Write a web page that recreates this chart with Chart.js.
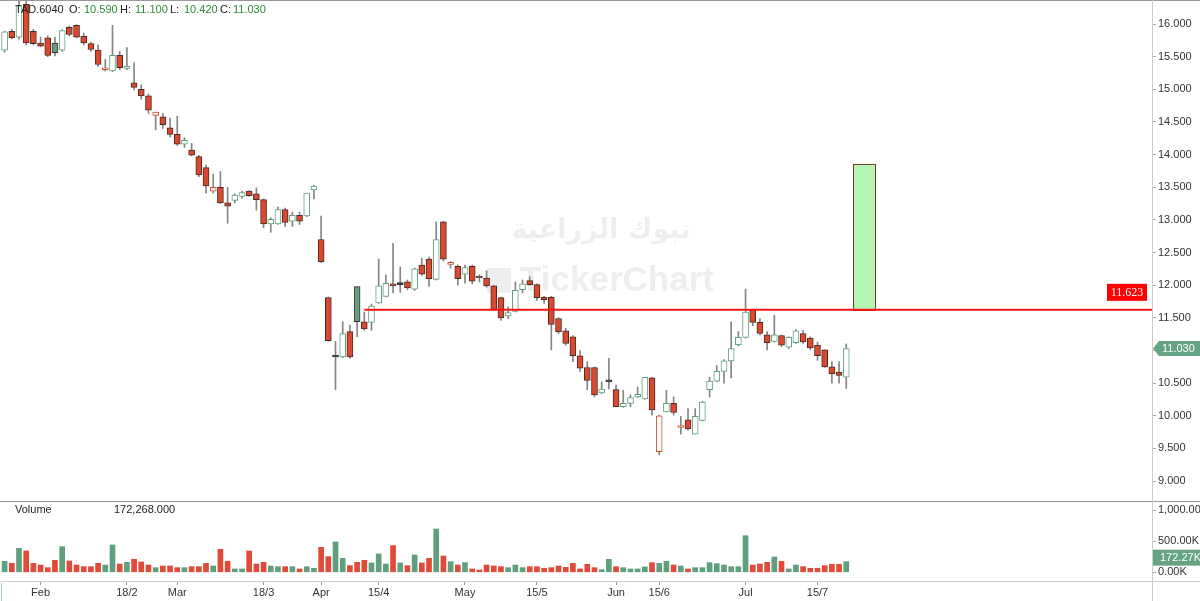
<!DOCTYPE html>
<html>
<head>
<meta charset="utf-8">
<script src="https://cdn.jsdelivr.net/npm/chart.js@4.4.1/dist/chart.umd.min.js"></script>
<style>
html, body { margin: 0; padding: 0; background: #fff; }
#wrap { width: 1200px; height: 601px; position: relative; }
</style>
</head>
<body>
<div id="wrap"><canvas id="chart"></canvas></div>
<script>
// daily candles, oldest first
const open = [
  15.60, 15.89, 15.80, 16.30, 15.89, 15.71, 15.79, 15.71, 15.60, 15.95,
  15.98, 15.81, 15.70, 15.60, 15.30, 15.28, 15.52, 15.32, 15.10, 15.00,
  14.90, 14.60, 14.58, 14.41, 14.31, 14.16, 14.07, 13.97, 13.80, 13.44,
  13.50, 13.26, 13.30, 13.36, 13.44, 13.40, 13.31, 12.94, 12.94, 13.16,
  12.98, 13.07, 13.06, 13.46, 12.70, 11.81, 10.90, 10.90, 11.29, 11.98,
  11.44, 11.43, 11.73, 11.83, 12.00, 12.01, 12.05, 11.94, 12.31, 12.40,
  12.09, 12.97, 12.32, 12.29, 12.17, 12.29, 12.12, 12.11, 11.99, 11.81,
  11.53, 11.60, 11.93, 12.07, 12.01, 11.82, 11.82, 11.49, 11.30, 11.21,
  10.92, 10.74, 10.74, 10.35, 10.52, 10.40, 10.14, 10.19, 10.29, 10.26,
  10.58, 9.45, 10.06, 10.19, 9.82, 9.94, 9.72, 9.93, 10.40, 10.53,
  10.68, 10.84, 11.09, 11.20, 11.63, 11.43, 11.24, 11.14, 11.23, 11.05,
  11.12, 11.26, 11.19, 11.08, 11.01, 10.75, 10.67, 10.59
];
const high = [
  15.89, 15.92, 16.40, 16.45, 15.92, 15.80, 15.82, 15.80, 15.91, 15.97,
  15.99, 15.86, 15.72, 15.68, 15.46, 15.98, 15.58, 15.64, 15.41, 15.07,
  14.93, 14.65, 14.63, 14.56, 14.59, 14.26, 14.17, 13.99, 13.84, 13.70,
  13.74, 13.50, 13.40, 13.44, 13.45, 13.49, 13.32, 13.03, 13.20, 13.18,
  13.12, 13.12, 13.41, 13.53, 13.06, 11.82, 11.14, 11.44, 11.39, 11.98,
  11.59, 11.71, 12.40, 12.16, 12.64, 12.28, 12.08, 12.26, 12.41, 12.43,
  12.97, 12.98, 12.36, 12.31, 12.31, 12.31, 12.16, 12.22, 12.00, 11.82,
  11.67, 12.05, 12.08, 12.13, 12.02, 11.83, 11.83, 11.50, 11.34, 11.23,
  11.00, 10.83, 10.75, 10.52, 10.88, 10.47, 10.39, 10.32, 10.44, 10.59,
  10.59, 10.01, 10.39, 10.29, 9.99, 10.11, 10.11, 10.22, 10.59, 10.77,
  10.86, 11.44, 11.29, 11.94, 11.63, 11.49, 11.29, 11.54, 11.24, 11.21,
  11.32, 11.31, 11.21, 11.13, 11.01, 10.83, 10.83, 11.10
];
const low = [
  15.57, 15.77, 15.77, 15.68, 15.68, 15.65, 15.50, 15.51, 15.58, 15.82,
  15.79, 15.68, 15.58, 15.35, 15.28, 15.27, 15.30, 15.30, 14.99, 14.85,
  14.63, 14.38, 14.40, 14.27, 14.14, 14.11, 13.98, 13.66, 13.41, 13.41,
  13.25, 12.95, 13.26, 13.33, 13.36, 13.15, 12.88, 12.81, 12.93, 12.90,
  12.90, 12.93, 13.05, 13.32, 12.35, 11.14, 10.40, 10.89, 10.88, 11.21,
  11.31, 11.31, 11.72, 11.82, 11.88, 11.89, 11.93, 11.92, 12.15, 11.98,
  12.08, 12.37, 12.26, 12.00, 12.03, 12.02, 12.05, 11.97, 11.62, 11.46,
  11.49, 11.59, 11.88, 12.00, 11.77, 11.72, 11.01, 11.26, 11.08, 10.83,
  10.68, 10.40, 10.29, 10.34, 10.41, 10.14, 10.13, 10.14, 10.28, 10.25,
  10.01, 9.40, 10.06, 10.01, 9.72, 9.78, 9.72, 9.92, 10.29, 10.52,
  10.50, 10.58, 11.07, 11.19, 11.38, 11.24, 11.01, 11.13, 11.06, 11.03,
  11.11, 11.11, 11.01, 10.85, 10.74, 10.50, 10.50, 10.42
];
const close = [
  15.88, 15.79, 16.28, 15.71, 15.70, 15.66, 15.52, 15.56, 15.90, 15.84,
  15.80, 15.71, 15.61, 15.38, 15.31, 15.52, 15.33, 15.35, 15.03, 14.90,
  14.68, 14.65, 14.46, 14.31, 14.16, 14.22, 13.99, 13.69, 13.52, 13.50,
  13.26, 13.21, 13.38, 13.42, 13.37, 13.31, 12.94, 13.01, 13.16, 12.96,
  13.07, 12.98, 13.41, 13.52, 12.36, 11.15, 10.90, 11.26, 10.90, 11.44,
  11.33, 11.68, 11.99, 12.03, 11.99, 12.01, 11.96, 12.25, 12.17, 12.10,
  12.70, 12.40, 12.33, 12.10, 12.27, 12.06, 12.11, 11.99, 11.63, 11.50,
  11.58, 11.92, 12.02, 12.01, 11.81, 11.78, 11.40, 11.29, 11.11, 10.92,
  10.73, 10.54, 10.32, 10.41, 10.52, 10.14, 10.19, 10.28, 10.33, 10.59,
  10.09, 10.00, 10.19, 10.05, 9.84, 9.80, 9.99, 10.21, 10.53, 10.68,
  10.84, 11.03, 11.20, 11.59, 11.43, 11.26, 11.12, 11.24, 11.08, 11.20,
  11.30, 11.13, 11.04, 10.92, 10.75, 10.64, 10.62, 11.03
];
// volume in thousands
const volume = [
  177, 145, 387, 344, 145, 118, 75, 194, 414, 183,
  118, 91, 91, 145, 118, 441, 134, 161, 210, 167,
  118, 75, 102, 102, 75, 75, 91, 91, 145, 102,
  371, 177, 54, 54, 344, 134, 161, 102, 91, 91,
  91, 54, 91, 65, 403, 253, 489, 226, 108, 161,
  194, 151, 296, 134, 430, 151, 108, 280, 151, 226,
  699, 263, 172, 118, 156, 54, 38, 118, 102, 91,
  75, 118, 75, 91, 91, 65, 75, 102, 81, 145,
  54, 129, 75, 43, 210, 91, 75, 54, 54, 86,
  156, 145, 177, 118, 102, 54, 75, 75, 156, 140,
  118, 91, 91, 591, 118, 134, 161, 247, 177, 54,
  118, 91, 65, 65, 108, 129, 129, 172.268
];

const tickAt = [5, 17, 24, 36, 44, 52, 64, 74, 85, 91, 103, 113];
const tickText = ['Feb', '18/2', 'Mar', '18/3', 'Apr', '15/4', 'May', '15/5', 'Jun', '15/6', 'Jul', '15/7'];
const priceTicks = [9, 9.5, 10, 10.5, 11, 11.5, 12, 12.5, 13, 13.5, 14, 14.5, 15, 15.5, 16];
const volTicks = [0, 500, 1000];

const slots = 160;          // candles plus empty space on the right
const level = 11.623;       // drawn horizontal line
const levelFrom = 50;
const boxFrom = 118, boxTo = 121, boxTop = 13.856;

const up = '#62a080', down = '#d9492f', edge = '#4b2a22', dark = '#333';
const last = close.length - 1;

const dirColor = i => (i === 0 || close[i] >= close[i - 1]) ? up : down;
const bodyFill = open.map((o, i) => o === close[i] ? dark : (close[i] > o ? '#fff' : dirColor(i)));
const bodyLine = open.map((o, i) => o === close[i] ? dark : (close[i] > o ? dirColor(i) : edge));
const volColor = open.map((o, i) => close[i] >= o ? '#5f9f7e' : '#e04a38');

const fmtVol = v => v.toLocaleString('en-US', {minimumFractionDigits: 2, maximumFractionDigits: 2}) + 'K';
const font = '"Liberation Sans", Arial, sans-serif';

const noPad = axis => {
    axis.paddingTop = 0; axis.paddingBottom = 0;
    axis.paddingLeft = 0; axis.paddingRight = 0;
};

const decor = {
    id: 'decor',
    beforeDraw(chart) {
        const ctx = chart.ctx;
        ctx.save();
        ctx.fillStyle = '#fff';
        ctx.fillRect(0, 0, chart.width, chart.height);
        ctx.restore();
    },
    beforeDatasetsDraw(chart) {
        const ctx = chart.ctx;
        ctx.save();
        ctx.fillStyle = 'rgba(0,0,0,0.065)';
        ctx.textAlign = 'center';
        ctx.textBaseline = 'middle';
        ctx.font = 'bold 27px "DejaVu Sans"';
        ctx.fillText('تبوك الزراعية', 601, 231);
        ctx.font = 'bold 35px ' + font;
        ctx.fillText('TickerChart', 617, 281);
        ctx.fillRect(487, 268, 24, 25);
        ctx.restore();
    },
    afterDatasetsDraw(chart) {
        const {ctx, scales} = chart;
        const x = scales.x, y = scales.y, v = scales.v;
        const right = chart.chartArea.right;
        ctx.save();

        // panel frame lines
        ctx.lineWidth = 1;
        ctx.strokeStyle = '#999';
        ctx.beginPath();
        ctx.moveTo(0, 0.5); ctx.lineTo(chart.width, 0.5);
        ctx.moveTo(0, Math.round(y.bottom) + 0.5); ctx.lineTo(chart.width, Math.round(y.bottom) + 0.5);
        ctx.stroke();
        ctx.strokeStyle = '#ccc';
        ctx.beginPath();
        ctx.moveTo(0, Math.round(v.bottom) + 0.5); ctx.lineTo(chart.width, Math.round(v.bottom) + 0.5);
        ctx.moveTo(Math.round(right) + 0.5, 0); ctx.lineTo(Math.round(right) + 0.5, chart.height);
        ctx.stroke();
        ctx.strokeStyle = '#a9c9e6';
        ctx.beginPath();
        ctx.moveTo(1.5, v.bottom + 2); ctx.lineTo(1.5, chart.height);
        ctx.stroke();

        // green target box
        const bx0 = x.getPixelForValue(boxFrom), bx1 = x.getPixelForValue(boxTo);
        const by0 = y.getPixelForValue(boxTop), by1 = y.getPixelForValue(level);
        ctx.fillStyle = '#b3f5b3';
        ctx.fillRect(bx0, by0, bx1 - bx0, by1 - by0);
        ctx.strokeStyle = '#7b3a20';
        ctx.strokeRect(Math.round(bx0) + 0.5, Math.round(by0) + 0.5, Math.round(bx1 - bx0), Math.round(by1 - by0));

        // level line
        const ly = y.getPixelForValue(level);
        ctx.strokeStyle = '#ff1414';
        ctx.lineWidth = 2;
        ctx.beginPath();
        ctx.moveTo(x.getPixelForValue(levelFrom), ly);
        ctx.lineTo(right, ly);
        ctx.stroke();
        ctx.fillStyle = '#ff0000';
        ctx.fillRect(right - 45, ly - 26, 40, 17);
        ctx.fillStyle = '#fff';
        ctx.font = '12px "Liberation Serif", serif';
        ctx.textAlign = 'center';
        ctx.textBaseline = 'middle';
        ctx.fillText(level.toFixed(3), right - 25, ly - 17);

        // last price tag
        const py = y.getPixelForValue(close[last]);
        ctx.fillStyle = '#66a383';
        ctx.beginPath();
        ctx.moveTo(right + 1, py);
        ctx.lineTo(right + 7, py - 7.5);
        ctx.lineTo(chart.width, py - 7.5);
        ctx.lineTo(chart.width, py + 7.5);
        ctx.lineTo(right + 7, py + 7.5);
        ctx.closePath();
        ctx.fill();
        ctx.fillStyle = '#fff';
        ctx.font = '11px ' + font;
        ctx.textAlign = 'left';
        ctx.fillText(close[last].toFixed(3), right + 10, py + 0.5);

        // last volume tag
        const vy = v.getPixelForValue(volume[last]) - 4;
        ctx.fillStyle = '#66a383';
        ctx.fillRect(right + 1, vy - 8, chart.width - right, 16);
        ctx.fillStyle = '#fff';
        ctx.fillText(fmtVol(volume[last]), right + 8, vy + 0.5);

        // header texts
        ctx.textBaseline = 'middle';
        const head = [
            ['TAD.6040', 15, '#222'], ['O:', 69, '#222'], [open[last].toFixed(3), 84, '#2f8a3a'],
            ['H:', 120, '#222'], [high[last].toFixed(3), 135, '#2f8a3a'],
            ['L:', 170, '#222'], [low[last].toFixed(3), 184, '#2f8a3a'],
            ['C:', 220, '#222'], [close[last].toFixed(3), 233, '#2f8a3a']
        ];
        ctx.font = '11px ' + font;
        head.forEach(([t, hx, c]) => { ctx.fillStyle = c; ctx.fillText(t, hx, 9.5); });
        ctx.fillStyle = '#222';
        ctx.fillText('Volume', 15, y.bottom + 9);
        ctx.fillText((volume[last] * 1000).toLocaleString('en-US', {minimumFractionDigits: 3}), 114, y.bottom + 9);

        ctx.restore();
    }
};

const ctx = document.getElementById('chart');

new Chart(ctx, {
    type: 'bar',
    data: {
        labels: Array.from({length: slots}, (_, i) => i),
        datasets: [
            {
                label: 'body',
                data: open.map((o, i) => [o, close[i]]),
                backgroundColor: bodyFill,
                borderColor: bodyLine,
                borderWidth: 1,
                borderSkipped: false,
                barThickness: 6,
                minBarLength: 2,
                grouped: false,
                yAxisID: 'y'
            },
            {
                label: 'wick',
                data: low.map((l, i) => [l, high[i]]),
                backgroundColor: '#858585',
                barThickness: 1,
                grouped: false,
                yAxisID: 'y'
            },
            {
                label: 'volume',
                data: volume,
                backgroundColor: volColor,
                barThickness: 5,
                grouped: false,
                yAxisID: 'v'
            }
        ]
    },
    options: {
        responsive: true,
        maintainAspectRatio: false,
        animation: false,
        events: [],
        layout: { padding: { left: 1, right: 0, top: 0, bottom: 0 } },
        plugins: { legend: { display: false }, tooltip: { enabled: false } },
        scales: {
            x: {
                type: 'category',
                offset: true,
                grid: { display: true, drawOnChartArea: false, drawTicks: true, tickLength: 4, color: '#999', offset: false },
                border: { display: false },
                ticks: {
                    autoSkip: false, maxRotation: 0, padding: 1,
                    color: '#333', font: { family: font, size: 11 },
                    callback: (val, i) => tickText[i]
                },
                afterBuildTicks: axis => { axis.ticks = tickAt.map(t => ({ value: t })); },
                afterFit: axis => { axis.height = 20; noPad(axis); }
            },
            y: {
                position: 'right',
                stack: 'panes',
                stackWeight: 501,
                min: 8.695,
                max: 16.368,
                grid: { drawOnChartArea: false, tickLength: 4, color: '#aaa' },
                border: { display: false },
                ticks: {
                    padding: 2, color: '#333', font: { family: font, size: 11 },
                    callback: val => Number(val).toFixed(3)
                },
                afterBuildTicks: axis => { axis.ticks = priceTicks.map(t => ({ value: t })); },
                afterFit: axis => { axis.width = 48; noPad(axis); }
            },
            v: {
                position: 'right',
                stack: 'panes',
                stackWeight: 80,
                min: -140,
                max: 1150,
                grid: { drawOnChartArea: false, tickLength: 4, color: '#aaa' },
                border: { display: false },
                ticks: {
                    padding: 2, color: '#333', font: { family: font, size: 11 },
                    callback: val => fmtVol(val)
                },
                afterBuildTicks: axis => { axis.ticks = volTicks.map(t => ({ value: t })); },
                afterFit: axis => { axis.width = 48; noPad(axis); }
            }
        }
    },
    plugins: [decor]
});
</script>
</body>
</html>
